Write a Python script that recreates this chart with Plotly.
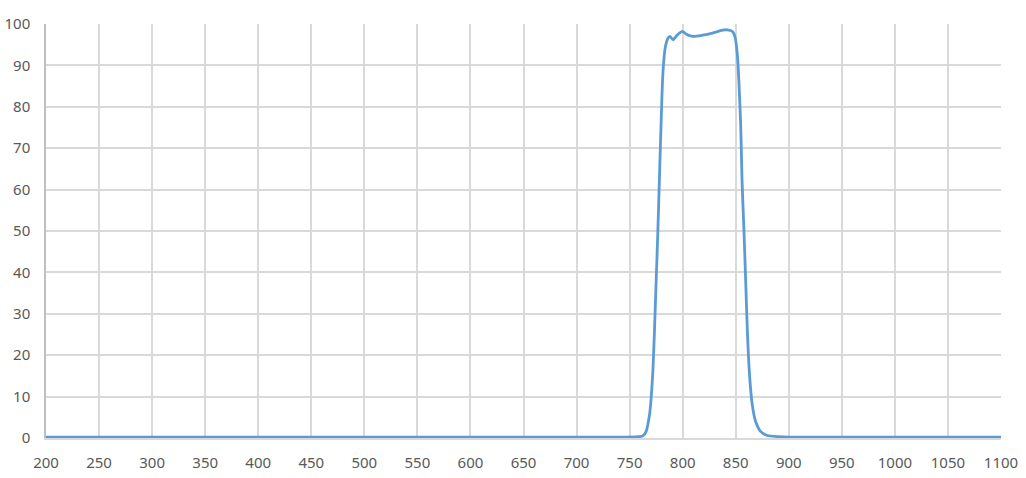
import plotly.graph_objects as go

wavelength = [200, 300, 400, 500, 600, 700, 740, 755, 759, 762.5, 765.6, 768.75, 770.3, 771.9, 773.4, 775, 776.6,
              778, 779.7, 781.25, 783.4, 786, 788, 791, 794.4, 796.9, 800, 803, 809.4, 818.75,
              828, 837.5, 842, 847, 849.4, 851.6, 853, 854.7, 856, 857.8, 859.4, 861, 863,
              865.6, 868.75, 873.4, 879.7, 890.6, 900, 950, 1000, 1050, 1100]
transmission = [0.2, 0.2, 0.2, 0.2, 0.2, 0.2, 0.2, 0.25, 0.3, 0.5, 1.6, 5.6, 9.6, 16, 25.7, 37.8, 49.8,
                61.8, 76.3, 87.5, 94, 96.5, 97, 96.2, 97.2, 97.8, 98.2, 97.6, 97, 97.3,
                97.8, 98.5, 98.6, 98.2, 96.8, 92.4, 86, 75.5, 61.8, 49.8, 37.8, 25.7, 15.3,
                8, 4, 1.6, 0.6, 0.3, 0.2, 0.2, 0.2, 0.2, 0.2]

x_ticks = list(range(200, 1101, 50))
y_ticks = list(range(0, 101, 10))

fig = go.Figure()
fig.add_trace(go.Scatter(x=wavelength, y=transmission, mode="lines",
                         line=dict(color="#5b9bd5", width=2.8, shape="spline", smoothing=0.6),
                         hoverinfo="skip"))

fig.update_layout(
    width=1026, height=478,
    margin=dict(l=46, r=25, t=24, b=40, autoexpand=False),
    paper_bgcolor="white", plot_bgcolor="white",
    showlegend=False,
    font=dict(family="Noto Sans", size=15, color="#595959"),
)
fig.update_xaxes(range=[200, 1100], tickvals=x_ticks, ticktext=[str(v) for v in x_ticks],
                 showgrid=True, gridcolor="#d9d9d9", gridwidth=1.5, automargin=False,
                 showline=True, linecolor="#d9d9d9", linewidth=1.5, zeroline=False,
                 ticks="", ticklabelstandoff=10)
fig.update_yaxes(range=[0, 100], tickvals=y_ticks, ticktext=[str(v) for v in y_ticks],
                 showgrid=True, gridcolor="#d9d9d9", gridwidth=1.5, automargin=False,
                 showline=True, linecolor="#bfbfbf", linewidth=1.5, zeroline=False,
                 ticks="", ticklabelstandoff=11)

fig.write_html("out.html", config={"displayModeBar": False},
               post_script="document.body.style.margin='0';document.body.style.overflow='hidden';")
